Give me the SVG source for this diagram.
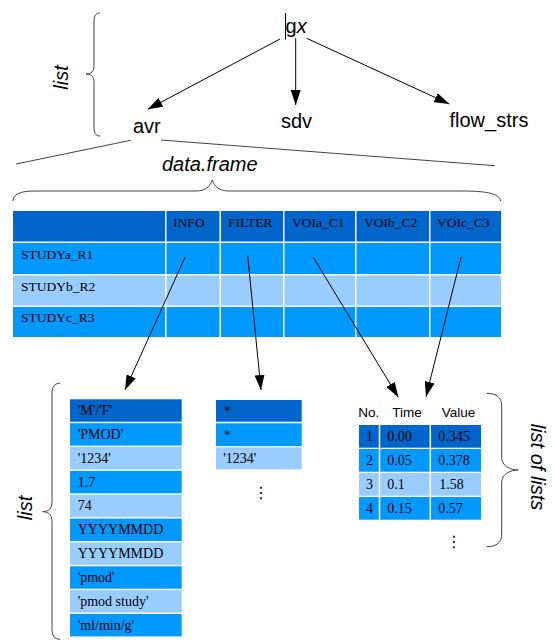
<svg xmlns="http://www.w3.org/2000/svg" width="554" height="644" viewBox="0 0 554 644">
<style>
  .sans { font-family: "Liberation Sans", Arial, sans-serif; fill: #000; }
  .lbl { font-size: 20px; }
  .it { font-style: italic; font-size: 20px; }
  .serif { font-family: "Liberation Serif", "Times New Roman", serif; fill: #000; }
  .t13 { font-size: 13.5px; }
  .t14 { font-size: 14px; }
  .dark { fill: #0066cc; }
  .mid { fill: #0099ff; }
  .light { fill: #99ccff; }
  .brace { fill: none; stroke: #444; stroke-width: 1; }
  .conn { fill: none; stroke: #000; stroke-width: 1; }
  .split { fill: none; stroke: #444; stroke-width: 1; }
  .sep { stroke: #fff; stroke-width: 1.5; }
  .dots { font-family: "DejaVu Sans", sans-serif; font-size: 16px; fill: #000; }
</style>
<defs>
  <marker id="ah" markerUnits="userSpaceOnUse" markerWidth="15" markerHeight="10" refX="15" refY="5" orient="auto">
    <path d="M0,0 L15,5 L0,10 z" fill="#000"/>
  </marker>
</defs>
<rect x="0" y="0" width="554" height="644" fill="#fff"/>

<!-- top list brace and label -->
<g id="list-top">
  <path class="brace" d="M100,13 C95.5,13 94,16 94,22 L94,66 C94,71.5 91,74 86,74 C91,74 94,76.5 94,82 L94,127 C94,133 95.5,136 100,136"/>
  <text class="sans it" transform="translate(68,77.5) rotate(-90)" text-anchor="middle">list</text>
</g>

<g id="gx">
  <line x1="285.5" y1="13" x2="285.5" y2="39.5" stroke="#000" stroke-width="1"/>
  <text class="sans lbl" x="285.5" y="33">g<tspan font-style="italic">x</tspan></text>
</g>
<g id="avr"><text class="sans lbl" x="133" y="132.7">avr</text></g>
<g id="sdv"><text class="sans lbl" x="281" y="128.3">sdv</text></g>
<g id="flow_strs"><text class="sans lbl" x="449.5" y="126.5">flow_strs</text></g>

<!-- data.frame expansion -->
<g id="dataframe-label">
  <line class="split" x1="130.7" y1="140.3" x2="16" y2="164"/>
  <line class="split" x1="161" y1="140" x2="495" y2="165.7"/>
  <text class="sans it" x="162" y="170.7">data.frame</text>
  <path class="brace" d="M13,201 C13,194.5 20,191 34,191 L196,191 C205,191 210,187 212.3,180 C214.5,187 219.5,191 229,191 L462,191 C488,191 500,194 500.5,201"/>
</g>

<g id="dataframe-table">
  <rect class="dark" x="13" y="211" width="488" height="30.5"/>
  <rect class="mid" x="13" y="243" width="488" height="31"/>
  <rect class="light" x="13" y="275.5" width="488" height="30"/>
  <rect class="mid" x="13" y="307" width="488" height="30"/>
  <line class="sep" x1="165.75" y1="211" x2="165.75" y2="337"/>
  <line class="sep" x1="220.25" y1="211" x2="220.25" y2="337"/>
  <line class="sep" x1="283.75" y1="211" x2="283.75" y2="337"/>
  <line class="sep" x1="355.75" y1="211" x2="355.75" y2="337"/>
  <line class="sep" x1="429.75" y1="211" x2="429.75" y2="337"/>
  <text class="serif t13" x="173" y="227.3">INFO</text>
  <text class="serif t13" x="228" y="227.3">FILTER</text>
  <text class="serif t13" x="292" y="227.3">VOIa_C1</text>
  <text class="serif t13" x="364" y="227.3">VOIb_C2</text>
  <text class="serif t13" x="437" y="227.3">VOIc_C3</text>
  <text class="serif t13" x="21" y="259">STUDYa_R1</text>
  <text class="serif t13" x="21" y="290.7">STUDYb_R2</text>
  <text class="serif t13" x="21" y="322.3">STUDYc_R3</text>
</g>

<g id="info-list">
  <rect class="dark" x="70" y="399.3" width="111.7" height="22.4"/>
  <rect class="mid" x="70" y="423.2" width="111.7" height="22.4"/>
  <rect class="light" x="70" y="447" width="111.7" height="22.4"/>
  <rect class="mid" x="70" y="470.9" width="111.7" height="22.4"/>
  <rect class="light" x="70" y="494.7" width="111.7" height="22.4"/>
  <rect class="mid" x="70" y="518.6" width="111.7" height="22.4"/>
  <rect class="light" x="70" y="542.4" width="111.7" height="22.4"/>
  <rect class="mid" x="70" y="566.3" width="111.7" height="22.4"/>
  <rect class="light" x="70" y="590.1" width="111.7" height="22.4"/>
  <rect class="mid" x="70" y="614" width="111.7" height="22.4"/>
  <text class="serif t14" x="77.7" y="415">'M'/'F'</text>
  <text class="serif t14" x="77.7" y="438.9">'PMOD'</text>
  <text class="serif t14" x="77.7" y="462.7">'1234'</text>
  <text class="serif t14" x="77.7" y="486.6">1.7</text>
  <text class="serif t14" x="77.7" y="510.4">74</text>
  <text class="serif t14" x="77.7" y="534.3">YYYYMMDD</text>
  <text class="serif t14" x="77.7" y="558.1">YYYYMMDD</text>
  <text class="serif t14" x="77.7" y="582">'pmod'</text>
  <text class="serif t14" x="77.7" y="605.8">'pmod study'</text>
  <text class="serif t14" x="77.7" y="629.7">'ml/min/g'</text>
</g>

<g id="list-bottom">
  <path class="brace" d="M60,383.3 C54,383.3 52,387 52,394 L52,502 C52,508.5 48.5,511.7 42.7,511.7 C48.5,511.7 52,515 52,521.5 L52,628 C52,635.5 54,639.3 60,639.3"/>
  <text class="sans it" transform="translate(32,508) rotate(-90)" text-anchor="middle">list</text>
</g>

<g id="filter-list">
  <rect class="dark" x="216" y="400" width="85.7" height="21.7"/>
  <rect class="mid" x="216" y="423.3" width="85.7" height="22.7"/>
  <rect class="light" x="216" y="447.3" width="85.7" height="22"/>
  <text class="serif t14" x="224" y="416">*</text>
  <text class="serif t14" x="224" y="439.5">*</text>
  <text class="serif t14" x="223.3" y="463">'1234'</text>
  <text class="dots" x="261" y="498" text-anchor="middle">⋮</text>
</g>

<g id="voi-table">
  <text class="sans t13" x="358.3" y="416.7">No.</text>
  <text class="sans t13" x="392.3" y="416.7">Time</text>
  <text class="sans t13" x="441.7" y="416.7">Value</text>
  <rect class="dark" x="359" y="425" width="122" height="22.7"/>
  <rect class="mid" x="359" y="449" width="122" height="22.7"/>
  <rect class="light" x="359" y="473" width="122" height="22.7"/>
  <rect class="mid" x="359" y="497" width="122" height="22.7"/>
  <line class="sep" x1="379.5" y1="425" x2="379.5" y2="519.7"/>
  <line class="sep" x1="430.3" y1="425" x2="430.3" y2="519.7"/>
  <text class="serif t14" x="369.5" y="441" text-anchor="middle">1</text>
  <text class="serif t14" x="369.5" y="465" text-anchor="middle">2</text>
  <text class="serif t14" x="369.5" y="489" text-anchor="middle">3</text>
  <text class="serif t14" x="369.5" y="513" text-anchor="middle">4</text>
  <text class="serif t14" x="387.3" y="441">0.00</text>
  <text class="serif t14" x="387.3" y="465">0.05</text>
  <text class="serif t14" x="387.3" y="489">0.1</text>
  <text class="serif t14" x="387.3" y="513">0.15</text>
  <text class="serif t14" x="438.3" y="441">0.345</text>
  <text class="serif t14" x="438.3" y="465">0.378</text>
  <text class="serif t14" x="439.3" y="489">1.58</text>
  <text class="serif t14" x="438.3" y="513">0.57</text>
  <text class="dots" x="454" y="547" text-anchor="middle">⋮</text>
</g>

<g id="list-of-lists">
  <path class="brace" d="M486.7,393.3 C497,393.3 501.7,398 501.7,406 L501.7,458 C501.7,465.5 510,470 518.3,470 C510,470 501.7,474.5 501.7,482 L501.7,534 C501.7,542 497,546.7 486.7,546.7"/>
  <text class="sans it" transform="translate(531,467) rotate(90)" text-anchor="middle">list of lists</text>
</g>

<g id="connectors">
  <line class="conn" x1="280" y1="39" x2="147.7" y2="109.3" marker-end="url(#ah)"/>
  <line class="conn" x1="295.7" y1="38.3" x2="295.7" y2="105" marker-end="url(#ah)"/>
  <line class="conn" x1="306.7" y1="38.3" x2="449.3" y2="104" marker-end="url(#ah)"/>
  <line class="conn" x1="185" y1="257.3" x2="125" y2="390" marker-end="url(#ah)"/>
  <line class="conn" x1="247.7" y1="255.7" x2="261" y2="390" marker-end="url(#ah)"/>
  <line class="conn" x1="313.3" y1="257.3" x2="398.3" y2="397.3" marker-end="url(#ah)"/>
  <line class="conn" x1="461" y1="257.3" x2="426" y2="396.7" marker-end="url(#ah)"/>
</g>
</svg>
